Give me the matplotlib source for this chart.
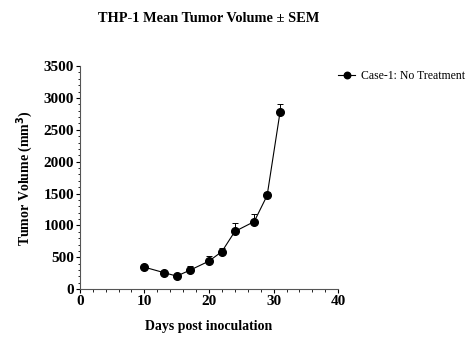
import numpy as np
import matplotlib.pyplot as plt
from matplotlib.ticker import MultipleLocator

# THP-1 tumor growth, untreated group
days = [10, 13, 15, 17, 20, 22, 24, 27, 29, 31]
mean_vol = [345, 260, 205, 295, 440, 590, 905, 1060, 1470, 2780]
sem_vol = [40, 20, 30, 70, 80, 60, 130, 120, 60, 120]
series_label = "Case-1: No Treatment"

plt.rcParams['font.family'] = ['Liberation Serif', 'DejaVu Serif']

fig = plt.figure(figsize=(4.75, 3.61), dpi=100)
ax = fig.add_axes([0.168, 0.199, 0.544, 0.618])

# upper-only error bars
ax.errorbar(days, mean_vol, yerr=[np.zeros(len(sem_vol)), sem_vol],
            fmt='none', ecolor='black', elinewidth=0.7, capsize=2.5, capthick=0.7)
ax.plot(days, mean_vol, '-o', color='black', markersize=5.5, linewidth=0.8,
        label=series_label)

ax.set_xlim(0, 40)
ax.set_ylim(0, 3500)
ax.xaxis.set_major_locator(MultipleLocator(10))
ax.xaxis.set_minor_locator(MultipleLocator(2))
ax.yaxis.set_major_locator(MultipleLocator(500))
ax.yaxis.set_minor_locator(MultipleLocator(100))
ax.tick_params(which='major', length=3, width=0.8, labelsize=11, pad=1)
ax.tick_params(which='minor', length=1.8, width=0.6)
for lab in ax.get_xticklabels() + ax.get_yticklabels():
    lab.set_fontweight('bold')

for s in ['top', 'right']:
    ax.spines[s].set_visible(False)
for s in ['left', 'bottom']:
    ax.spines[s].set_linewidth(0.8)
    ax.spines[s].set_color('#555555')

ax.set_xlabel("Days post inoculation", fontsize=10, fontweight='bold', labelpad=9)
ax.set_ylabel("Tumor Volume (mm$^\\mathbf{3}$)", fontsize=10, fontweight='bold', labelpad=6)
ax.set_title("THP-1 Mean Tumor Volume \u00b1 SEM", fontsize=10.4, fontweight='bold', pad=32)

ax.legend(loc='upper left', bbox_to_anchor=(0.98, 1.005), frameon=False,
          fontsize=8.5, handlelength=1.5, handletextpad=0.5, borderaxespad=0.0,
          markerscale=0.85)

fig.savefig("out.png", dpi=100)
